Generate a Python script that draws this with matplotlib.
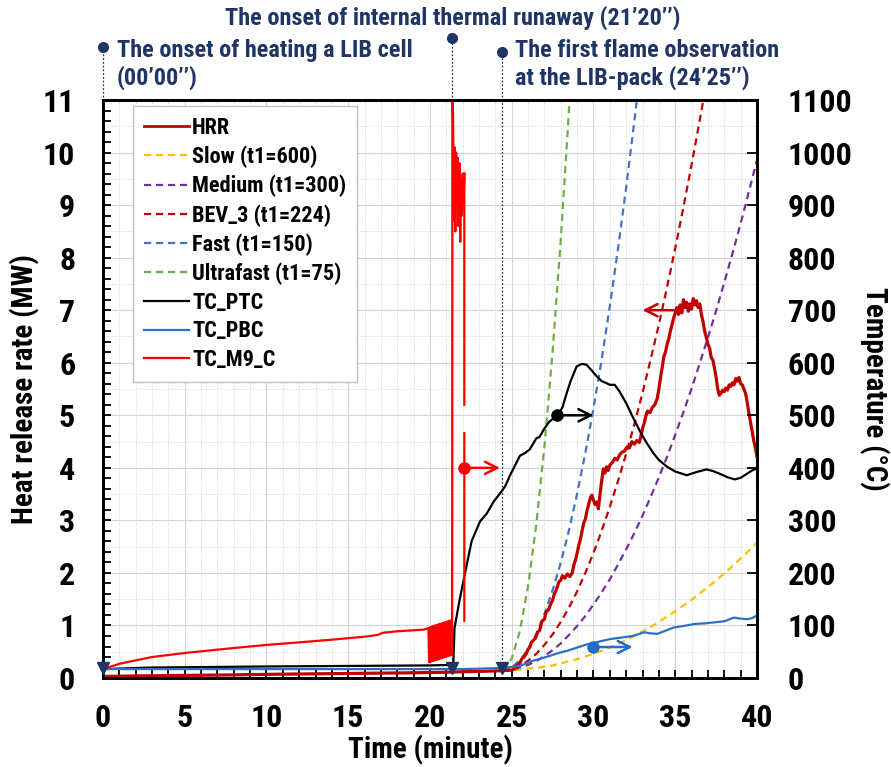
import numpy as np
import matplotlib
matplotlib.use("Agg")
import matplotlib.pyplot as plt
from matplotlib import font_manager
from matplotlib.lines import Line2D
from matplotlib.ticker import MultipleLocator

_bold = {}
for f in font_manager.fontManager.ttflist:
    w = f.weight if isinstance(f.weight, int) else (700 if "bold" in str(f.weight).lower() else 400)
    if w >= 700:
        _bold[f.name] = True
FONT = "Liberation Sans"
for cand in ["Liberation Sans Narrow", "Arial Narrow", "Roboto Condensed", "Barlow Semi Condensed",
             "Fira Sans Condensed", "Encode Sans Semi Condensed"]:
    if cand in _bold:
        FONT = cand
        break
plt.rcParams["font.family"] = [FONT, "DejaVu Sans"]
plt.rcParams["font.weight"] = "bold"

# ---------------- data ----------------
# HRR (MW)
hrr_t = [0, 2, 5, 8, 10, 13, 16, 19, 21, 22, 23.5, 24.4,
         25.0, 25.2, 25.35, 25.5, 25.6, 25.75, 25.9, 26.0, 26.1, 26.2, 26.3, 26.45, 26.6, 26.7, 26.85,
         27.0, 27.1, 27.25, 27.4, 27.5, 27.6, 27.7, 27.8, 27.9, 28.0, 28.1, 28.25, 28.4, 28.55, 28.7,
         28.8, 28.9, 29.0, 29.1, 29.2, 29.3, 29.4, 29.5, 29.6, 29.7, 29.8, 29.9, 30.0, 30.1, 30.2, 30.3,
         30.4, 30.5, 30.6, 30.7, 30.8, 30.9, 31.0, 31.15, 31.3, 31.45, 31.6, 31.75, 31.9, 32.05, 32.2,
         32.35, 32.5, 32.65, 32.8, 32.9, 33.0, 33.1, 33.2, 33.3, 33.45, 33.6, 33.75, 33.9, 34.0, 34.1,
         34.2, 34.3, 34.4, 34.5, 34.6, 34.7, 34.8, 34.9, 35.0, 35.1, 35.2, 35.3, 35.4, 35.5, 35.6, 35.7,
         35.8, 35.9, 36.0, 36.1, 36.2, 36.3, 36.4, 36.5, 36.6, 36.7, 36.8, 36.9, 37.0, 37.1, 37.2, 37.3,
         37.4, 37.5, 37.6, 37.7, 37.8, 37.9, 38.0, 38.1, 38.2, 38.3, 38.4, 38.5, 38.6, 38.7, 38.8, 38.9,
         39.0, 39.1, 39.2, 39.3, 39.4, 39.5, 39.6, 39.7, 39.8, 39.9, 40.0]
hrr_v = [0.03, 0.04, 0.05, 0.06, 0.07, 0.08, 0.09, 0.10, 0.11, 0.12, 0.13, 0.14,
         0.15, 0.18, 0.25, 0.28, 0.36, 0.40, 0.47, 0.55, 0.58, 0.68, 0.71, 0.76, 0.88, 0.90, 1.08,
         1.12, 1.25, 1.30, 1.42, 1.48, 1.60, 1.66, 1.75, 1.84, 1.86, 1.95, 1.90, 1.98, 1.93, 2.00,
         2.15, 2.25, 2.38, 2.52, 2.64, 2.80, 2.95, 3.02, 3.18, 3.30, 3.42, 3.48, 3.38, 3.30, 3.35, 3.22,
         3.50, 3.75, 3.98, 3.90, 4.02, 3.95, 4.05, 4.10, 4.18, 4.15, 4.25, 4.30, 4.32, 4.40, 4.38,
         4.50, 4.45, 4.52, 4.48, 4.60, 4.75, 4.85, 4.98, 5.08, 5.05, 5.15, 5.20, 5.32, 5.50, 5.72,
         5.90, 6.12, 6.20, 6.35, 6.45, 6.60, 6.72, 6.85, 6.95, 7.05, 6.92, 7.10, 6.95, 7.20, 7.05, 7.15,
         6.98, 7.12, 7.02, 7.22, 7.10, 7.18, 7.05, 7.12, 6.92, 6.78, 6.60, 6.48, 6.35, 6.28, 6.10, 6.05,
         5.90, 5.72, 5.50, 5.38, 5.42, 5.48, 5.45, 5.52, 5.48, 5.58, 5.55, 5.62, 5.58, 5.70, 5.65, 5.72,
         5.60, 5.58, 5.50, 5.42, 5.25, 5.05, 4.88, 4.70, 4.52, 4.38, 4.21]

# design fires (MW)
slow_t = [24.42, 25, 25.5, 26, 26.5, 27, 27.5, 28, 28.5, 29, 29.5, 30, 30.5, 31, 31.5, 32, 32.5, 33, 33.5,
          34, 34.5, 35, 35.5, 36, 36.5, 37, 37.5, 38, 38.5, 39, 39.5, 40]
slow_v = [0.15, 0.15, 0.16, 0.18, 0.19, 0.22, 0.24, 0.28, 0.32, 0.36, 0.41, 0.46, 0.52, 0.58, 0.65, 0.72,
          0.80, 0.89, 0.97, 1.07, 1.17, 1.27, 1.38, 1.49, 1.61, 1.73, 1.86, 1.99, 2.13, 2.28, 2.42, 2.58]
medium_t = [24.42, 25, 25.5, 26, 26.5, 27, 27.5, 28, 28.5, 29, 29.5, 30, 30.5, 31, 31.5, 32, 32.5, 33,
            33.5, 34, 34.5, 35, 35.5, 36, 36.5, 37, 37.5, 38, 38.5, 39, 39.5, 40]
medium_v = [0.15, 0.16, 0.20, 0.25, 0.32, 0.42, 0.53, 0.66, 0.82, 0.99, 1.18, 1.40, 1.63, 1.88, 2.16, 2.45,
            2.76, 3.09, 3.45, 3.82, 4.21, 4.63, 5.06, 5.51, 5.99, 6.48, 6.99, 7.53, 8.08, 8.65, 9.25, 9.86]
bev_t = [24.42, 25, 25.5, 26, 26.5, 27, 27.5, 28, 28.5, 29, 29.5, 30, 30.5, 31, 31.5, 32, 32.5, 33, 33.5,
         34, 34.5, 35, 35.5, 36, 36.5, 37]
bev_v = [0.15, 0.17, 0.23, 0.33, 0.46, 0.63, 0.83, 1.07, 1.34, 1.65, 2.00, 2.38, 2.80, 3.26, 3.75, 4.27,
         4.83, 5.43, 6.07, 6.73, 7.44, 8.18, 8.96, 9.77, 10.62, 11.50]
fast_t = [24.42, 25, 25.5, 26, 26.5, 27, 27.5, 28, 28.5, 29, 29.5, 30, 30.5, 31, 31.5, 32, 32.5, 33]
fast_v = [0.15, 0.20, 0.34, 0.55, 0.84, 1.22, 1.67, 2.20, 2.81, 3.51, 4.28, 5.13, 6.06, 7.08, 8.17, 9.34,
          10.60, 11.93]
ultra_t = [24.42, 25, 25.5, 26, 26.5, 27, 27.5, 28, 28.5, 29]
ultra_v = [0.15, 0.37, 0.90, 1.75, 2.92, 4.41, 6.22, 8.35, 10.80, 13.58]

# temperatures (°C)
ptc_t = [0, 3, 10, 15, 20, 21.3, 21.43, 21.5, 21.8, 22.1, 22.55, 23.06, 23.47, 23.9, 24.3, 24.6, 24.9,
         25.5, 25.8, 26.1, 26.5, 26.7, 27.0, 27.3, 27.85, 28.1, 28.36, 28.6, 28.97, 29.3, 29.58, 29.9,
         30.2, 30.5, 30.8, 31.0, 31.3, 31.6, 32.0, 32.4, 32.8, 33.2, 33.66, 34.0, 34.5, 35.0, 35.7, 36.3,
         36.9, 37.3, 37.7, 38.2, 38.65, 39.0, 39.4, 39.7, 40.0]
ptc_v = [17, 20, 22, 23, 24, 25, 30, 95, 147, 193, 261, 298, 313, 336, 352, 365, 386, 423, 428, 435, 456,
         459, 475, 488, 501, 515, 542, 565, 593, 598, 596, 585, 574, 565, 561, 558, 558, 545, 523, 497,
         472, 450, 428, 415, 402, 393, 386, 392, 397, 394, 389, 382, 378, 381, 389, 395, 399]
pbc_t = [0, 5, 10, 15, 20, 22, 24.3, 25.0, 25.5, 26.3, 26.8, 27.3, 27.8, 28.4, 29.0, 29.6, 30.3, 31.0,
         31.7, 32.4, 33.1, 33.5, 33.9, 34.4, 34.9, 35.5, 36.2, 36.8, 37.4, 38.0, 38.6, 39.0, 39.4, 39.7,
         40.0]
pbc_v = [17, 17, 17, 17, 17, 17, 19, 21, 23, 33, 37, 42, 47, 52, 58, 64, 69, 74, 77, 80, 87, 85, 84, 90,
         96, 99, 103, 104, 106, 108, 115, 113, 112, 114, 119]
m9_t = [0, 0.5, 1, 2.06, 3, 5.1, 7.97, 10.0, 12.05, 14, 16.1, 16.8, 17.1, 18, 19.6,
        19.90, 19.95, 20.00, 20.05, 20.10, 20.15, 20.20, 20.25, 20.30, 20.35, 20.40, 20.45, 20.50, 20.55,
        20.60, 20.65, 20.70, 20.75, 20.80, 20.85, 20.90, 20.95, 21.00, 21.05, 21.10, 21.15, 21.20, 21.25,
        21.30, 21.35, 21.36, 21.37, 21.42, 21.46, 21.50, 21.55, 21.60, 21.65, 21.70, 21.75, 21.80, 21.85,
        21.90, 21.95, 22.00, 22.05, 22.10, 22.10, 22.10, 22.10, 22.10]
m9_v = [17, 22, 27, 34, 40, 48, 57, 63, 68, 73, 79, 82, 86, 89, 92,
        95, 30, 97, 31, 98, 32, 99, 33, 100, 34, 101, 35, 102, 36, 103, 37, 104, 38, 105, 39, 106, 40,
        107, 41, 108, 42, 109, 43, 110, 44, 419, 1150, 1040, 870, 1010, 850, 1000, 900, 990, 860, 980,
        830, 950, 880, 960, 900, 961, 520, np.nan, 466, 109]

event_t = [0, 21.333, 24.417]

# ---------------- figure ----------------
fig = plt.figure(figsize=(8.91, 7.67), dpi=100)
ax = fig.add_axes([0.1156, 0.116, 0.734, 0.7536])
ax2 = ax.twinx()

ax.set_xlim(0, 40)
ax.set_ylim(0, 11)
ax2.set_ylim(0, 1100)

ax.set_axisbelow(True)
ax.xaxis.set_major_locator(MultipleLocator(5))
ax.xaxis.set_minor_locator(MultipleLocator(1))
ax.yaxis.set_major_locator(MultipleLocator(1))
ax.yaxis.set_minor_locator(MultipleLocator(0.2))
ax2.yaxis.set_major_locator(MultipleLocator(100))

ax.grid(which="major", color="#d4d4d4", lw=0.8)
ax.grid(which="minor", axis="x", color="#e4e4e4", lw=0.7, ls=(0, (2, 1)))
for v in np.arange(0.5, 11, 1.0):
    ax.axhline(v, color="#e4e4e4", lw=0.7, ls=(0, (2, 1)), zorder=0)

NAVY = "#1F3566"
# event markers (dotted lines + dots above the axes)
ytops = [1.092, 1.107, 1.083]
for et, yt in zip(event_t, ytops):
    ax.plot([et, et], [0.21, 11 * yt], color=NAVY, lw=0.9, ls=(0, (1.5, 1.5)), clip_on=False, zorder=1)
    ax.plot([et], [11 * yt], "o", color=NAVY, ms=7, clip_on=False, zorder=5)

dash = (0, (3.2, 2.2))
ax.plot(hrr_t, hrr_v, color="#C00000", lw=2.3, zorder=3)
ax.plot(slow_t, slow_v, color="#FFC000", lw=1.6, ls=dash)
ax.plot(medium_t, medium_v, color="#7030A0", lw=1.6, ls=dash)
ax.plot(bev_t, bev_v, color="#C00000", lw=1.6, ls=dash)
ax.plot(fast_t, fast_v, color="#4472C4", lw=1.6, ls=dash)
ax.plot(ultra_t, ultra_v, color="#70AD47", lw=1.6, ls=dash)

ax2.plot(ptc_t, ptc_v, color="black", lw=1.6)
ax2.plot(pbc_t, pbc_v, color="#2E6FC1", lw=1.6)
ax2.plot(m9_t, m9_v, color="#FF0000", lw=1.6)
ax2.plot(event_t, [20, 20, 20], "v", color=NAVY, ms=9, clip_on=False, zorder=6)

# axis-direction arrows
arrow_kw = dict(arrowstyle="->", lw=1.8, mutation_scale=22, shrinkA=0, shrinkB=0)
ax2.annotate("", xy=(24.28, 400), xytext=(22.1, 400), arrowprops=dict(color="#FF0000", **arrow_kw))
ax2.plot([22.1], [400], "o", color="#FF0000", ms=8)
ax2.annotate("", xy=(30.0, 500), xytext=(27.75, 500), arrowprops=dict(color="black", **arrow_kw))
ax2.plot([27.75], [500], "o", color="black", ms=8)
ax2.annotate("", xy=(32.4, 59), xytext=(30.0, 59), arrowprops=dict(color="#1F6FC5", **arrow_kw))
ax2.plot([30.0], [59], "o", color="#1F6FC5", ms=8)
ax.annotate("", xy=(33.0, 7.0), xytext=(34.9, 7.0), arrowprops=dict(color="#C00000", **arrow_kw))

# annotation texts
tkw = dict(color=NAVY, fontsize=17.5, fontweight="bold", transform=ax.get_xaxis_transform(),
           va="center", clip_on=False)
ax.text(0.86, 1.0865, "The onset of heating a LIB cell", ha="left", **tkw)
ax.text(0.86, 1.038, "(00\u201900\u2019\u2019)", ha="left", **tkw)
ax.text(25.2, 1.0865, "The first flame observation", ha="left", **tkw)
ax.text(25.2, 1.038, "at the LIB-pack (24\u201925\u2019\u2019)", ha="left", **tkw)
ax.text(21.4, 1.142, "The onset of internal thermal runaway (21\u201920\u2019\u2019)", ha="center", **tkw)

# spines & ticks
for a in (ax, ax2):
    for s in a.spines.values():
        s.set_linewidth(2.0)
        s.set_color("black")
ax.tick_params(which="both", direction="in", width=1.3, length=6, labelsize=23, top=False, right=False)
ax.tick_params(axis="x", which="both", pad=18)
ax.tick_params(axis="y", which="both", pad=20)
ax2.tick_params(which="both", direction="in", width=1.3, length=7, labelsize=23, pad=22)
for lab in ax.get_xticklabels() + ax.get_yticklabels() + ax2.get_yticklabels():
    lab.set_fontweight("bold")

ax.set_xlabel("Time (minute)", fontsize=21, fontweight="bold", va="center", ha="center")
ax.xaxis.set_label_coords(0.5, -0.125)
ax.set_ylabel("Heat release rate (MW)", fontsize=21, fontweight="bold", va="center", ha="center")
ax.yaxis.set_label_coords(-0.119, 0.5)
ax2.set_ylabel("Temperature (\u00b0C)", fontsize=21, fontweight="bold", rotation=270,
               va="center", ha="center")
ax2.yaxis.set_label_coords(1.179, 0.5)

# legend
handles = [
    Line2D([], [], color="#C00000", lw=2.0),
    Line2D([], [], color="#FFC000", lw=1.6, ls=dash),
    Line2D([], [], color="#7030A0", lw=1.6, ls=dash),
    Line2D([], [], color="#C00000", lw=1.6, ls=dash),
    Line2D([], [], color="#4472C4", lw=1.6, ls=dash),
    Line2D([], [], color="#70AD47", lw=1.6, ls=dash),
    Line2D([], [], color="black", lw=1.6),
    Line2D([], [], color="#2E6FC1", lw=1.6),
    Line2D([], [], color="#FF0000", lw=1.6),
]
labels = ["HRR", "Slow (t1=600)", "Medium (t1=300)", "BEV_3 (t1=224)", "Fast (t1=150)",
          "Ultrafast (t1=75)", "TC_PTC", "TC_PBC", "TC_M9_C"]
leg = ax2.legend(handles, labels, loc="upper left", bbox_to_anchor=(0.046, 0.99),
                 prop={"family": [FONT, "DejaVu Sans"], "weight": "bold", "size": 16},
                 frameon=True, fancybox=False, framealpha=1, edgecolor="#bfbfbf",
                 handlelength=2.0, handletextpad=0.15, labelspacing=0.3, borderpad=0.5,
                 borderaxespad=0)
leg.get_frame().set_linewidth(1.0)
leg.set_zorder(10)

fig.savefig("out.png", dpi=100)
